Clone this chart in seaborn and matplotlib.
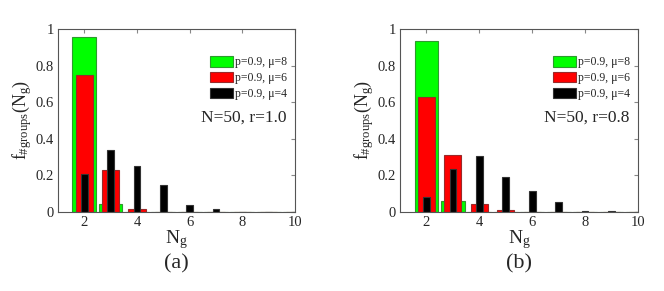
"""
Group-size distributions f_#groups(N_g), two panels (r=1.0 and r=0.8)
"""

import numpy as np
import pandas as pd
import matplotlib
matplotlib.use("Agg")
import matplotlib.pyplot as plt
import seaborn as sns
from matplotlib.patches import Patch
from matplotlib.mathtext import MathTextParser

sns.set_style("white")
plt.rcParams["font.family"] = ["Liberation Serif", "DejaVu Serif"]
plt.rcParams["mathtext.fontset"] = "custom"
plt.rcParams["mathtext.rm"] = "Liberation Serif"
plt.rcParams["mathtext.it"] = "Liberation Serif"   # MATLAB tex is upright

NG = [2, 3, 4, 5, 6, 7, 8, 9, 10]
SERIES_LABELS = ["p=0.9, μ=8", "p=0.9, μ=6", "p=0.9, μ=4"]

# panel (a): N=50, r=1.0
A_MU8 = [0.954, 0.046, 0.0, 0.0, 0.0, 0.0, 0.0, 0.0, 0.0]
A_MU6 = [0.746, 0.232, 0.016, 0.002, 0.0, 0.0, 0.0, 0.0, 0.0]
A_MU4 = [0.208, 0.340, 0.250, 0.150, 0.038, 0.015, 0.001, 0.0, 0.0]

# panel (b): N=50, r=0.8
B_MU8 = [0.936, 0.062, 0.0, 0.0, 0.0, 0.0, 0.0, 0.0, 0.0]
B_MU6 = [0.627, 0.314, 0.046, 0.011, 0.001, 0.0, 0.0, 0.0, 0.0]
B_MU4 = [0.084, 0.234, 0.307, 0.192, 0.112, 0.057, 0.005, 0.007, 0.0]

PANELS = [
    ("N=50, r=1.0", "(a)", A_MU8, A_MU6, A_MU4),
    ("N=50, r=0.8", "(b)", B_MU8, B_MU6, B_MU4),
]

STYLES = [  # face, edge, bar width
    ("#00ff00", "#2e9a2e", 0.9),
    ("#ff0000", "#9a2a2a", 0.65),
    ("#000000", "#333333", 0.25),
]


def pick_label():
    # mathtext is picky about '#', try a few spellings
    for s in [r"$f_{\text{#groups}}(N_g)$", r"$f_{\sharp groups}(N_g)$",
              r"$f_{groups}(N_g)$"]:
        try:
            MathTextParser("path").parse(s)
            return s
        except Exception:
            pass
    return "f(N_g)"


YLABEL = pick_label()


def draw_panel(ax, note, tag, *series):
    for vals, (face, edge, w) in zip(series, STYLES):
        df = pd.DataFrame({"Ng": NG, "f": vals})
        sns.barplot(data=df, x="Ng", y="f", native_scale=True, width=w,
                    color=face, edgecolor=edge, linewidth=0.8,
                    saturation=1, errorbar=None, ax=ax)

    ax.set_xlim(1, 10)
    ax.set_ylim(0, 1)
    ax.set_xticks([2, 4, 6, 8, 10])
    ax.set_yticks([0, 0.2, 0.4, 0.6, 0.8, 1])
    ax.set_yticklabels(["0", "0.2", "0.4", "0.6", "0.8", "1"])
    ax.tick_params(direction="in", length=3, labelsize=10.5, top=True,
                   right=True, color="#888888", pad=3)
    for s in ax.spines.values():
        s.set_color("#555555")
        s.set_linewidth(0.8)

    ax.set_xlabel(r"$N_g$", fontsize=14, labelpad=-1)
    ax.set_ylabel(YLABEL, fontsize=13, labelpad=1)
    ax.text(0.965, 0.514, note, transform=ax.transAxes, ha="right",
            va="center", fontsize=12.5)
    ax.text(0.5, -0.285, tag, transform=ax.transAxes, ha="center",
            va="center", fontsize=16)

    handles = [Patch(facecolor=f, edgecolor=e, linewidth=0.8)
               for f, e, _ in STYLES]
    ax.legend(handles, SERIES_LABELS, loc="upper right", frameon=False,
              fontsize=8.5, handlelength=2.0, handleheight=1.0,
              handletextpad=0.1, labelspacing=0.3,
              bbox_to_anchor=(1.01, 0.91))


fig = plt.figure(figsize=(6.64, 2.91), dpi=100)
ax_a = fig.add_axes([0.0873, 0.2715, 0.357, 0.629])
ax_b = fig.add_axes([0.6024, 0.2715, 0.3584, 0.629])

for ax, (note, tag, s8, s6, s4) in zip([ax_a, ax_b], PANELS):
    draw_panel(ax, note, tag, s8, s6, s4)

fig.savefig("out.png", dpi=100)
